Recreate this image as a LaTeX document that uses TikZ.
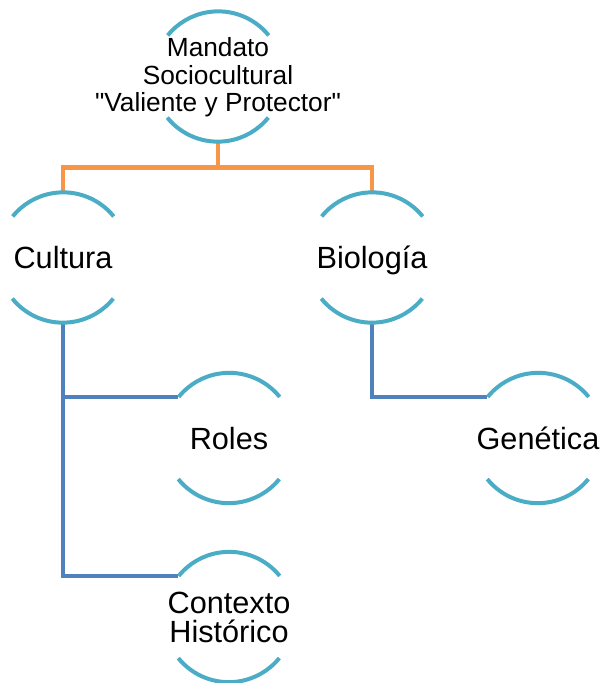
\documentclass[tikz,border=0pt]{standalone}
\usepackage{fontspec}
\setmainfont{Liberation Sans}[Ligatures=TeXOff]
\definecolor{ringblue}{HTML}{4BACC6}
\definecolor{forkorange}{HTML}{F79646}
\definecolor{linkblue}{HTML}{4F81BD}

\begin{document}
\begin{tikzpicture}[x=0.75pt,y=-0.75pt,
  hub/.style={circle,minimum size=97.5pt,inner sep=0pt},
  lbl/.style={align=center,inner sep=0pt,font=\fontsize{23}{22}\selectfont},
  oneline/.style={text height=16.5pt,text depth=0pt},
  ring/.style={ringblue,line width=3pt},
  fork/.style={forkorange,line width=3.4pt},
  link/.style={linkblue,line width=3.4pt}]

\useasboundingbox (0,0) rectangle (605,683);

% circles (only the arcs get drawn)
\node[hub]   (man)   at (218,76.5)  {};
\node[hub]   (cul)   at (63,257.5)  {};
\node[hub]   (bio)   at (372,257.5) {};
\node[hub]   (rol)   at (229,438)   {};
\node[hub]   (gen)   at (538,438)   {};
\node[hub]   (con)   at (229,617)   {};

% texts
\node[lbl,font=\fontsize{19.7}{20.6}\selectfont] (man-t) at (218,77.5) {Mandato\\Sociocultural\\"Valiente y Protector"};
\node[lbl,oneline] (cul-t) at (cul) {Cultura};
\node[lbl,oneline] (bio-t) at (bio) {Biología};
\node[lbl,oneline] (rol-t) at (rol) {Roles};
\node[lbl,oneline] (gen-t) at (gen) {Genética};
\node[lbl]         (con-t) at (229,617.5) {Contexto\\Histórico};

% connectors
\draw[fork] (man.south) -- ++(0,25.5) coordinate (split);
\draw[fork] (cul.north) |- (split) -| (bio.north);

\draw[link] (cul.south) |- (rol.141);
\draw[link] (cul.south) |- (con.141);
\draw[link] (bio.south) |- (gen.141);

\foreach \n in {man,cul,bio,rol,gen,con}{
  \draw[ring] (\n.39)  arc[start angle=39,end angle=141,radius=48.75pt];
  \draw[ring] (\n.219) arc[start angle=219,end angle=321,radius=48.75pt];
}

\end{tikzpicture}
\end{document}
